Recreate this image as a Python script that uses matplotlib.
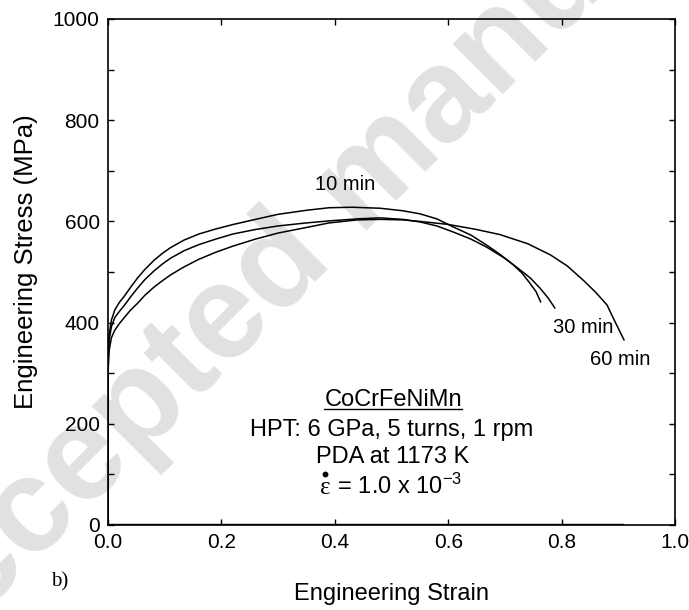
import matplotlib
matplotlib.use("Agg")
import matplotlib.pyplot as plt
from matplotlib.lines import Line2D
from matplotlib.ticker import MultipleLocator

plt.rcParams['font.family'] = ['Liberation Sans', 'DejaVu Sans']
plt.rcParams['mathtext.fontset'] = 'custom'
plt.rcParams['mathtext.rm'] = 'Liberation Sans'
plt.rcParams['mathtext.it'] = 'Liberation Sans'
plt.rcParams['mathtext.sf'] = 'Liberation Sans'

# Engineering stress-strain curves after post-deformation annealing
strain_10 = [0.0, 0.0, 0.002, 0.006, 0.012, 0.02, 0.028, 0.04, 0.052, 0.065, 0.081, 0.095,
             0.11, 0.134, 0.16, 0.19, 0.221, 0.26, 0.30, 0.35, 0.39, 0.43, 0.48, 0.52,
             0.55, 0.58, 0.609, 0.64, 0.668, 0.69, 0.715, 0.73, 0.744, 0.755, 0.763]
stress_10 = [0, 330, 375, 405, 425, 440, 451, 470, 488, 505, 523, 536,
             548, 563, 575, 585, 594, 604, 614, 622, 627, 628, 626, 621,
             615, 605, 589, 573, 553, 536, 514, 498, 478, 461, 441]

strain_30 = [0.0, 0.0, 0.002, 0.006, 0.012, 0.02, 0.028, 0.04, 0.052, 0.065, 0.081, 0.095,
             0.11, 0.134, 0.16, 0.19, 0.22, 0.26, 0.30, 0.35, 0.39, 0.44, 0.48, 0.52,
             0.55, 0.58, 0.609, 0.64, 0.668, 0.70, 0.727, 0.745, 0.762, 0.776, 0.788]
stress_30 = [0, 320, 365, 392, 410, 422, 433, 451, 468, 485, 502, 515,
             527, 542, 554, 565, 575, 584, 591, 597, 601, 605, 607, 604,
             599, 591, 579, 565, 549, 527, 504, 488, 468, 449, 429]

strain_60 = [0.0, 0.0, 0.002, 0.006, 0.012, 0.02, 0.028, 0.04, 0.052, 0.065, 0.081, 0.095,
             0.11, 0.134, 0.16, 0.19, 0.22, 0.26, 0.30, 0.35, 0.39, 0.44, 0.48, 0.52,
             0.55, 0.60, 0.65, 0.691, 0.74, 0.78, 0.81, 0.838, 0.86, 0.88, 0.895, 0.91]
stress_60 = [0, 300, 345, 370, 385, 398, 409, 425, 438, 454, 470, 482,
             494, 510, 525, 539, 551, 565, 577, 588, 597, 603, 604, 603,
             600, 594, 584, 574, 556, 534, 512, 484, 460, 435, 400, 366]

# unloaded tail recorded along the strain axis
tail_strain = [0.0, 0.908]
tail_stress = [1.5, 1.5]

curve_labels = ["10 min", "30 min", "60 min"]
label_pos = [(0.4185, 663), (0.838, 380), (0.904, 316)]

x_ticks = [0.0, 0.2, 0.4, 0.6, 0.8, 1.0]
y_ticks = [0, 200, 400, 600, 800, 1000]

fig = plt.figure(figsize=(6.89, 6.10), dpi=100)
ax = fig.add_axes([108 / 689, 85 / 610, 567 / 689, 506 / 610])
ax.set_facecolor('none')

# faint watermark behind the data
fig.text(0.53, 0.70, "Accepted manuscript", fontsize=96, fontweight='bold',
         color='#e1e1e1', rotation=45, ha='center', va='center', zorder=-1,
         rotation_mode='anchor')

for sx, sy in [(strain_10, stress_10), (strain_30, stress_30), (strain_60, stress_60)]:
    ax.plot(sx, sy, color='black', lw=1.1, solid_joinstyle='round')
ax.plot(tail_strain, tail_stress, color='black', lw=1.0)

for lab, (lx, ly) in zip(curve_labels, label_pos):
    ax.text(lx, ly, lab, fontsize=14.5, ha='center', va='baseline')

ax.set_xlim(0, 1.0)
ax.set_ylim(0, 1000)
ax.set_xticks(x_ticks)
ax.set_yticks(y_ticks)
ax.set_xticklabels([f"{t:.1f}" for t in x_ticks])
ax.yaxis.set_minor_locator(MultipleLocator(100))
ax.tick_params(which='both', direction='in', top=True, right=True,
               length=4.5, width=1.0, labelsize=15, pad=6)
for sp in ax.spines.values():
    sp.set_linewidth(1.2)

ax.set_xlabel("Engineering Strain", fontsize=17, labelpad=22)
ax.set_ylabel("Engineering Stress (MPa)", fontsize=18.5)
ax.yaxis.set_label_coords(-0.1235, 0.52)

fig.text(60 / 689, 1 - 582 / 610, "b)", fontsize=15, family='Liberation Serif',
         ha='center', va='center')

# description block
t_alloy = ax.text(0.503, 235, "CoCrFeNiMn", fontsize=17, ha='center', va='baseline')
ax.text(0.500, 176, "HPT: 6 GPa, 5 turns, 1 rpm", fontsize=17, ha='center', va='baseline')
ax.text(0.502, 122, "PDA at 1173 K", fontsize=17, ha='center', va='baseline')

# strain-rate line: epsilon with a dot above, then the value
t_eps = ax.text(0, 61, "\u03b5", fontsize=18, family='Liberation Serif', va='baseline')
t_rate = ax.text(0, 61, r" = 1.0 x 10$^{-3}$", fontsize=17, va='baseline')

fig.canvas.draw()
r = fig.canvas.get_renderer()
w_eps = t_eps.get_window_extent(r).width
w_rate = t_rate.get_window_extent(r).width
cx, cy = ax.transData.transform((0.499, 61))
x0 = cx - (w_eps + w_rate) / 2
inv = ax.transData.inverted()
t_eps.set_x(inv.transform((x0, cy))[0])
t_rate.set_x(inv.transform((x0 + w_eps, cy))[0])
dot_xy = inv.transform((x0 + w_eps / 2, cy + 20))
ax.plot([dot_xy[0]], [dot_xy[1]], marker='o', markersize=3.2, color='black', lw=0)

fig.canvas.draw()
bb = t_alloy.get_window_extent(r).transformed(fig.transFigure.inverted())
uy = fig.transFigure.inverted().transform(ax.transData.transform((0, 229)))[1]
fig.add_artist(Line2D([bb.x0, bb.x1], [uy, uy], transform=fig.transFigure,
                      color='black', lw=1.0))

fig.savefig("out.png", dpi=100)
